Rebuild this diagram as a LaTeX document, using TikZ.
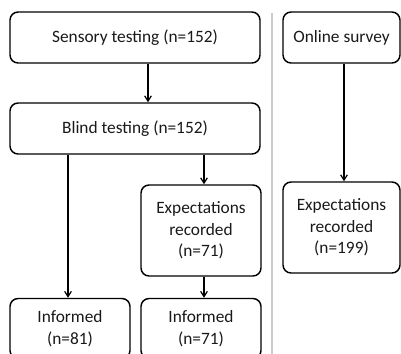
\documentclass[tikz,border=0pt]{standalone}
\usepackage{fontspec}
\setmainfont{Carlito}
\usetikzlibrary{arrows.meta}
\begin{document}
\begin{tikzpicture}[x=0.75pt,y=-0.75pt,
  box/.style={draw=black,line width=1.1pt,rounded corners=6pt,align=center,inner sep=0pt,font=\fontsize{13}{16.2}\selectfont,text=black!90},
  conn/.style={line width=0.9pt,-{Straight Barb[length=4pt,width=5pt]}}]
\useasboundingbox (0,0) rectangle (401,354);
\clip (0,0) rectangle (401,354);
\fill[white] (0,0) rectangle (401,354);
\draw[black!20,line width=1pt] (272,13) -- (272,360);
\node[box,minimum width=250*0.75pt,minimum height=51*0.75pt] (sens) at (135,37.5) {Sensory testing (n=152)};
\node[box,minimum width=250*0.75pt,minimum height=51*0.75pt] (blind) at (135,128.5) {Blind testing (n=152)};
\node[box,minimum width=120*0.75pt,minimum height=91*0.75pt] (exp71) at (201,230.5) {Expectations\\recorded\\(n=71)};
\node[box,minimum width=120*0.75pt,minimum height=60*0.75pt] (inf81) at (70,328.5) {Informed\\(n=81)};
\node[box,minimum width=120*0.75pt,minimum height=60*0.75pt] (inf71) at (201,328.5) {Informed\\(n=71)};
\node[box,minimum width=117*0.75pt,minimum height=51*0.75pt] (online) at (341.5,37.5) {Online survey};
\node[box,minimum width=117*0.75pt,minimum height=91*0.75pt] (exp199) at (341.5,227.5) {Expectations\\recorded\\(n=199)};
\draw[conn] (sens.south -| 148,0) -- (blind.north -| 148,0);
\draw[conn] (blind.south -| 68,0) -- (inf81.north -| 68,0);
\draw[conn] (blind.south -| 204,0) -- (exp71.north -| 204,0);
\draw[conn] (exp71.south -| 204,0) -- (inf71.north -| 204,0);
\draw[conn] (online.south -| 344,0) -- (exp199.north -| 344,0);
\end{tikzpicture}
\end{document}
